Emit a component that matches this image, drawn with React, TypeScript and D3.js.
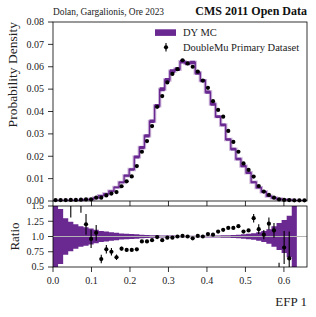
import React from 'react';
import * as d3 from 'd3';

// binning of EFP 1
const N_BINS = 50;
const X_MAX = 0.66;

// normalised densities, one value per bin
const mcDensity = [
  0.0001, 0.0002, 0.0002, 0.0003, 0.0003, 0.0003, 0.0006, 0.0007, 0.0014, 0.0024,
  0.0032, 0.0044, 0.0061, 0.0083, 0.0113, 0.0141, 0.0197, 0.0239, 0.0291, 0.0356,
  0.0425, 0.0499, 0.0541, 0.058, 0.0589, 0.0623, 0.0615, 0.0619, 0.0572, 0.0538,
  0.0487, 0.0433, 0.0377, 0.034, 0.0275, 0.0232, 0.0188, 0.0156, 0.0126, 0.0084,
  0.006, 0.0041, 0.0022, 0.0014, 0.0009, 0.0006, 0.0005, 0.0002, 0, 0,
];
const dataDensity = [
  0.0004, 0.0004, 0.0004, 0.0005, 0.0005, 0.0006, 0.0007, 0.0007, 0.0015, 0.0015,
  0.0025, 0.0033, 0.004, 0.0066, 0.0088, 0.011, 0.0156, 0.022, 0.0268, 0.0335,
  0.0421, 0.0469, 0.053, 0.0568, 0.0589, 0.0629, 0.0615, 0.06, 0.0578, 0.0538,
  0.0506, 0.0446, 0.0407, 0.0377, 0.0313, 0.0264, 0.022, 0.0168, 0.0139, 0.0109,
  0.0067, 0.0042, 0.0027, 0.0015, 0.0007, 0.0005, 0.0004, 0.0003, 0.0003, 0.0003,
];
// relative MC uncertainty (null = empty bin)
const mcRelErr = [
  0.6, 0.45, 0.3, 0.24, 0.2, 0.17, 0.15, 0.13, 0.11, 0.09,
  0.08, 0.07, 0.06, 0.05, 0.045, 0.04, 0.035, 0.03, 0.026, 0.022,
  0.02, 0.018, 0.016, 0.015, 0.014, 0.013, 0.013, 0.013, 0.014, 0.014,
  0.015, 0.016, 0.017, 0.019, 0.021, 0.025, 0.03, 0.035, 0.045, 0.055,
  0.07, 0.09, 0.12, 0.17, 0.22, 0.27, 0.34, 0.6, null, null,
];
// data / MC
const ratioVals = [
  null, null, null, 2.0, null, 1.9, 1.2, 0.96, 1.06, 0.63,
  0.79, 0.75, 0.66, 0.8, 0.78, 0.78, 0.79, 0.92, 0.92, 0.94,
  0.99, 0.94, 0.98, 0.98, 1.0, 1.01, 1.0, 0.97, 1.01, 1.0,
  1.04, 1.03, 1.08, 1.11, 1.14, 1.14, 1.17, 1.08, 1.1, 1.3,
  1.12, 1.03, 1.21, 1.1, 0.35, 0.82, 0.64, null, null, null,
];
const ratioErr = [
  0, 0, 0, 0.69, 0, 0.51, 0.17, 0.15, 0.13, 0.07,
  0.07, 0.06, 0.045, 0.03, 0.025, 0.02, 0.02, 0.015, 0.013, 0.012,
  0.01, 0.01, 0.01, 0.009, 0.009, 0.009, 0.009, 0.009, 0.009, 0.01,
  0.01, 0.01, 0.011, 0.012, 0.013, 0.014, 0.016, 0.018, 0.02, 0.07,
  0.08, 0.075, 0.1, 0.12, 0.22, 0.27, 0.44, 0, 0, 0,
];

const mainTicks = [0, 0.01, 0.02, 0.03, 0.04, 0.05, 0.06, 0.07, 0.08];
const ratioTicks = [0.5, 0.75, 1.0, 1.25, 1.5];
const ratioTickLabels = ['0.5', '0.75', '1.0', '1.25', '1.5'];
const xTicks = [0, 0.1, 0.2, 0.3, 0.4, 0.5, 0.6];

const PURPLE = '#6a2891';
const FONT = '"Liberation Serif", "DejaVu Serif", serif';

const L = 53, R = 307;
const MAIN_T = 22, MAIN_B = 201;
const RAT_T = 206, RAT_B = 267;

export default function App() {
  const x = d3.scaleLinear().domain([0, X_MAX]).range([L, R]);
  const y = d3.scaleLinear().domain([0, 0.08]).range([MAIN_B, MAIN_T]);
  const yr = d3.scaleLinear().domain([0.5, 1.5]).range([RAT_B, RAT_T]);

  const edges = d3.range(N_BINS + 1).map(i => (i * X_MAX) / N_BINS);
  const centers = edges.slice(0, -1).map((e, i) => (e + edges[i + 1]) / 2);

  // points for a step curve: one per bin plus closing edge
  const steps = (n: number, f: (i: number) => any) => {
    const pts = d3.range(n).map(i => ({ x: edges[i], ...f(i) }));
    pts.push({ x: edges[n], ...f(n - 1) });
    return pts;
  };

  const mcPts = steps(N_BINS, i => ({
    v: mcDensity[i],
    lo: mcDensity[i] * (1 - (mcRelErr[i] ?? 0)),
    hi: mcDensity[i] * (1 + (mcRelErr[i] ?? 0)),
  }));
  const nBand = mcRelErr.filter(v => v != null).length;
  const bandPts = steps(nBand, i => ({ lo: 1 - (mcRelErr[i] as number), hi: 1 + (mcRelErr[i] as number) }));

  const mcLine = d3.line<any>().x(d => x(d.x)).y(d => y(d.v)).curve(d3.curveStepAfter);
  const mcArea = d3.area<any>().x(d => x(d.x)).y0(d => y(d.lo)).y1(d => y(d.hi)).curve(d3.curveStepAfter);
  const ratioArea = d3.area<any>().x(d => x(d.x)).y0(d => yr(d.lo)).y1(d => yr(d.hi)).curve(d3.curveStepAfter);

  const tickLen = 5;

  return (
    <svg width={316} height={317} style={{ position: 'absolute', left: 0, top: 0, background: '#fff' }}
      fontFamily={FONT}>
      <defs>
        <clipPath id="ratioClip">
          <rect x={L} y={RAT_T} width={R - L} height={RAT_B - RAT_T} />
        </clipPath>
        <clipPath id="mainClip">
          <rect x={L} y={MAIN_T} width={R - L} height={MAIN_B - MAIN_T} />
        </clipPath>
        <clipPath id="ratioLabelClip">
          <rect x={0} y={MAIN_B + 1.5} width={L} height={RAT_B} />
        </clipPath>
      </defs>

      {/* titles */}
      <text x={L} y={14.5} fontSize={9.4} fill="#222">Dolan, Gargalionis, Ore 2023</text>
      <text x={R} y={15} fontSize={12} fontWeight="bold" textAnchor="end" fill="#111">CMS 2011 Open Data</text>

      {/* main panel */}
      <g clipPath="url(#mainClip)">
        <path d={mcLine(mcPts) as string} fill="none" stroke={PURPLE} strokeOpacity={0.35} strokeWidth={3.4} />
        <path d={mcArea(mcPts) as string} fill={PURPLE} />
        <path d={mcLine(mcPts) as string} fill="none" stroke={PURPLE} strokeWidth={1.3} />
      </g>
      {centers.map((c, i) => {
        const r = ratioVals[i];
        const e = r ? (dataDensity[i] * ratioErr[i]) / r : 0;
        return (
          <g key={'d' + i}>
            {e > 0 && (
              <line x1={x(c)} x2={x(c)} y1={y(dataDensity[i] - e)} y2={y(dataDensity[i] + e)} stroke="#000" strokeWidth={1.1} />
            )}
            <circle cx={x(c)} cy={y(dataDensity[i])} r={2.1} fill="#000" />
          </g>
        );
      })}
      <rect x={L} y={MAIN_T} width={R - L} height={MAIN_B - MAIN_T} fill="none" stroke="#000" strokeWidth={0.8} />
      {mainTicks.map(t => (
        <g key={'my' + t}>
          <line x1={L - tickLen} x2={L} y1={y(t)} y2={y(t)} stroke="#000" strokeWidth={0.8} />
          <text x={L - 9} y={y(t)} dy="0.33em" fontSize={10} textAnchor="end" fill="#222">{d3.format('.2f')(t)}</text>
        </g>
      ))}
      {xTicks.map(t => (
        <line key={'mx' + t} x1={x(t)} x2={x(t)} y1={MAIN_B} y2={MAIN_B + tickLen} stroke="#000" strokeWidth={0.8} />
      ))}
      <text transform={`translate(16.5,${MAIN_T}) rotate(-90)`} fontSize={13.5} textAnchor="end" fill="#222">
        Probability Density
      </text>

      {/* legend */}
      <rect x={155} y={29.3} width={21} height={6.6} fill={PURPLE} />
      <text x={183} y={36.3} fontSize={10.5} fill="#222">DY MC</text>
      <line x1={166} x2={166} y1={43} y2={51.5} stroke="#000" strokeWidth={1.1} />
      <circle cx={166} cy={47.3} r={2.1} fill="#000" />
      <text x={183} y={50.8} fontSize={10.5} fill="#222">DoubleMu Primary Dataset</text>

      {/* ratio panel */}
      <g clipPath="url(#ratioClip)">
        <path d={ratioArea(bandPts) as string} fill={PURPLE} />
        <line x1={L} x2={R} y1={yr(1)} y2={yr(1)} stroke="#b4b4b4" strokeWidth={1} />
        {centers.map((c, i) => {
          const r = ratioVals[i];
          if (r == null) return null;
          return (
            <g key={'r' + i}>
              {ratioErr[i] > 0 && (
                <line x1={x(c)} x2={x(c)} y1={yr(r - ratioErr[i])} y2={yr(r + ratioErr[i])} stroke="#000" strokeWidth={1.1} />
              )}
              <circle cx={x(c)} cy={yr(r)} r={2.1} fill="#000" />
            </g>
          );
        })}
      </g>
      <rect x={L} y={RAT_T} width={R - L} height={RAT_B - RAT_T} fill="none" stroke="#000" strokeWidth={0.8} />
      <g clipPath="url(#ratioLabelClip)">
        {ratioTicks.map((t, k) => (
          <text key={'rl' + t} x={L - 9} y={yr(t)} dy="0.33em" fontSize={10} textAnchor="end" fill="#222">{ratioTickLabels[k]}</text>
        ))}
      </g>
      {ratioTicks.map(t => (
        <line key={'ry' + t} x1={L - tickLen} x2={L} y1={yr(t)} y2={yr(t)} stroke="#000" strokeWidth={0.8} />
      ))}
      {xTicks.map(t => (
        <g key={'rx' + t}>
          <line x1={x(t)} x2={x(t)} y1={RAT_B} y2={RAT_B + tickLen} stroke="#000" strokeWidth={0.8} />
          <text x={x(t)} y={283.5} fontSize={10} textAnchor="middle" fill="#222">{d3.format('.1f')(t)}</text>
        </g>
      ))}
      <text transform={`translate(18.5,${(RAT_T + RAT_B) / 2}) rotate(-90)`} fontSize={13} textAnchor="middle" fill="#222">
        Ratio
      </text>
      <text x={R} y={306} fontSize={13} textAnchor="end" fill="#222">EFP 1</text>
    </svg>
  );
}
